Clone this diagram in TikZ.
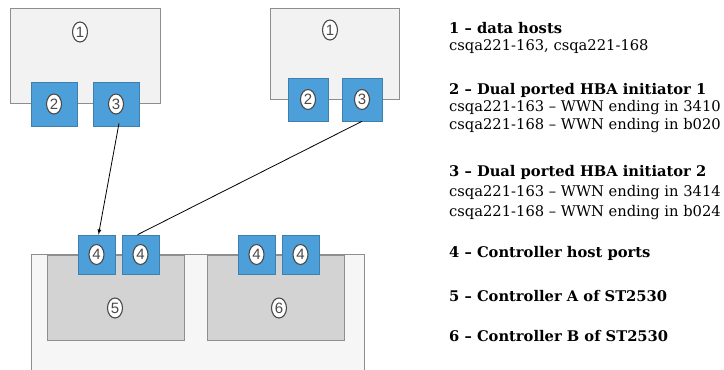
\documentclass[tikz,border=0pt]{standalone}
\usepackage{fontspec}
\setmainfont{DejaVu Serif}
\setsansfont{Liberation Sans}
\usepackage{tikz}
\usetikzlibrary{shapes.geometric}
\tikzset{>=latex}
\definecolor{boxgray}{HTML}{F2F2F2}
\definecolor{edgegray}{HTML}{8E8E8E}
\definecolor{portblue}{HTML}{4D9FDA}
\definecolor{ctrlgray}{HTML}{D3D3D3}
\definecolor{numgray}{HTML}{4A4A4A}
\tikzset{
	hostbox/.style={draw=edgegray, fill=boxgray, line width=1pt, inner sep=0pt},
	ctrlbox/.style={draw=edgegray, fill=ctrlgray, line width=1pt, inner sep=0pt},
	portbox/.style={draw=portblue!80!black, fill=portblue, line width=.6pt, inner sep=0pt},
	numcirc/.style={ellipse, draw=numgray, fill=white, line width=1.1pt, minimum width=15pt, minimum height=20pt, inner sep=0pt, text=numgray, font=\sffamily\fontsize{15}{15}\selectfont},
	legend/.style={anchor=west, inner sep=0pt, font=\fontsize{14.7}{18}\selectfont}
}
\newcommand{\numc}[3]{\node[numcirc](#1) at(#2){#3};}

\begin{document}
\begin{tikzpicture}[x=1pt, y=-1pt]
    \useasboundingbox(0, 0) rectangle (724, 370);
    % data hosts
    \node[hostbox, minimum width=150, minimum height=95](hA) at(85, 55.5){};
    \node[portbox, minimum width=46, minimum height=44](hA2) at(54, 104){};
    \node[portbox, minimum width=46, minimum height=44](hA3) at(116, 104){};
    \numc{nA1}{80, 32}{1}
    \numc{nA2}{hA2}{2}
    \numc{nA3}{hA3}{3}
    \node[hostbox, minimum width=129, minimum height=91](hB) at(334.5, 53.5){};
    \node[portbox, minimum width=40, minimum height=43](hB2) at(308, 99.5){};
    \node[portbox, minimum width=40, minimum height=43](hB3) at(362, 99.5){};
    \numc{nB1}{330, 30}{1}
    \numc{nB2}{hB2}{2}
    \numc{nB3}{hB3}{3}
    % storage array
    \draw[draw=edgegray, fill=boxgray!70!white, line width=1pt](31, 380) rectangle (364, 254);
    \node[ctrlbox, minimum width=137, minimum height=85](cA) at(115.5, 297.5){};
    \node[ctrlbox, minimum width=137, minimum height=85](cB) at(275.5, 297.5){};
    \foreach \nm/\x in {sA4a/96.5, sA4b/140.5, sB4a/256.5, sB4b/300.5}{
        \node[portbox, minimum width=37, minimum height=39](\nm) at(\x, 254.5){};
        \numc{n\nm}{\nm}{4}
    }
    \numc{nA5}{115, 308}{5}
    \numc{nB6}{279, 308}{6}
    % cables
    \draw[thick, ->](hA3.south) ++(3, -3) -- ([xshift=2pt]sA4a.north);
    \draw[thick](hB3.south) -- ([xshift=-3pt]sA4b.north);
    % legend
    \node[legend](t1) at(449, 28){\textbf{1 -- data hosts}};
    \node[legend](t1a) at(449, 47){csqa221-163, csqa221-168};
    \node[legend](t2) at(449, 90){\textbf{2 -- Dual ported HBA initiator 1}};
    \node[legend](t2a) at(449, 108){csqa221-163 -- WWN ending in 3410};
    \node[legend](t2b) at(449, 126){csqa221-168 -- WWN ending in b020};
    \node[legend](t3) at(449, 172){\textbf{3 -- Dual ported HBA initiator 2}};
    \node[legend](t3a) at(449, 193){csqa221-163 -- WWN ending in 3414};
    \node[legend](t3b) at(449, 213){csqa221-168 -- WWN ending in b024};
    \node[legend](t4) at(449, 253){\textbf{4 -- Controller host ports}};
    \node[legend](t5) at(449, 296){\textbf{5 -- Controller A of ST2530}};
    \node[legend](t6) at(449, 336){\textbf{6 -- Controller B of ST2530}};
\end{tikzpicture}
\end{document}
